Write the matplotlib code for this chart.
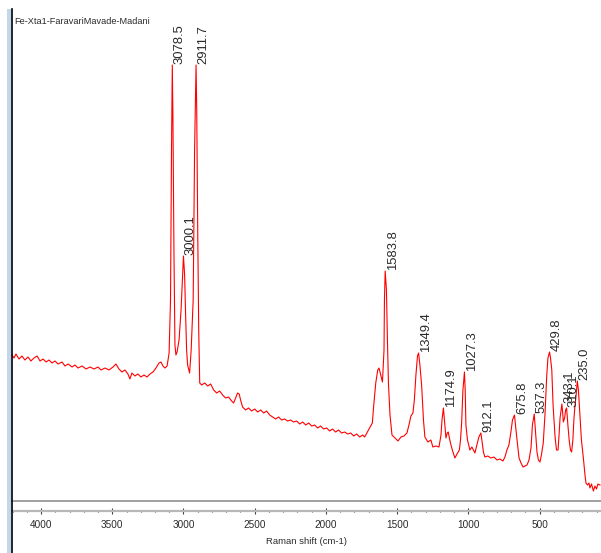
import numpy as np
import matplotlib.pyplot as plt
from matplotlib.patches import Rectangle
from matplotlib.lines import Line2D
from matplotlib.ticker import MultipleLocator

# -----------------------
# Data
# -----------------------
title = "Fe-Xta1-FaravariMavade-Madani"

shift = [4204, 4190, 4176, 4155, 4134, 4113, 4092, 4071, 4050, 4028,
         4007, 3986, 3965, 3944, 3923, 3902, 3881, 3853, 3832, 3810,
         3782, 3762, 3741, 3712, 3684, 3656, 3628, 3600, 3579, 3551,
         3523, 3495, 3474, 3453, 3432, 3411, 3390, 3376, 3362, 3341,
         3320, 3299, 3277, 3256, 3235, 3214, 3193, 3172, 3158, 3144,
         3130, 3115, 3101, 3091, 3084, 3078.5, 3074, 3067, 3060, 3053,
         3045, 3031, 3017, 3003, 3000.1, 2992, 2985, 2978, 2971, 2957,
         2946, 2932, 2922, 2911.7, 2907, 2900, 2893, 2886, 2872, 2851,
         2830, 2809, 2788, 2767, 2746, 2725, 2704, 2683, 2662, 2648,
         2634, 2620, 2609, 2599, 2585, 2564, 2543, 2522, 2500, 2479,
         2458, 2437, 2416, 2395, 2374, 2353, 2332, 2311, 2290, 2269,
         2248, 2227, 2206, 2184, 2163, 2142, 2121, 2100, 2079, 2058,
         2037, 2016, 1995, 1974, 1953, 1932, 1911, 1890, 1868, 1847,
         1826, 1805, 1784, 1763, 1742, 1728, 1709, 1693, 1674, 1664,
         1650, 1636, 1627, 1615, 1603, 1592, 1589, 1583.8, 1575, 1568,
         1561, 1550, 1536, 1515, 1494, 1473, 1452, 1431, 1417, 1403,
         1389, 1379, 1368, 1357, 1349.4, 1340, 1328, 1315, 1305, 1284,
         1263, 1249, 1228, 1206, 1192, 1185, 1174.9, 1168, 1157, 1148,
         1141, 1133, 1122, 1108, 1094, 1080, 1063, 1055, 1047, 1038,
         1027.3, 1022, 1017, 1006, 989, 975, 954, 940, 926, 912.1,
         905, 894, 884, 863, 842, 820, 799, 778, 757, 743,
         729, 715, 701, 690, 675.8, 669, 658, 644, 630, 616,
         602, 588, 574, 560, 550, 537.3, 529, 518, 508, 497,
         487, 474, 462, 450, 441, 429.8, 423, 414, 405, 391,
         381, 370, 363, 356, 343.1, 338, 333, 324, 317, 310.1,
         301, 292, 283, 275, 266, 259, 252, 243, 235.0, 227,
         216, 206, 193, 181, 174, 163, 153, 146, 135, 122,
         111, 100, 90, 76]

intensity = [145, 142, 146, 141, 144, 140, 143, 139, 142, 144,
             139, 141, 138, 140, 137, 139, 136, 138, 134, 136,
             133, 135, 132, 134, 131, 133, 131, 133, 130, 132,
             130, 133, 136, 131, 128, 130, 126, 121, 127, 124,
             126, 123, 125, 123, 126, 128, 132, 137, 138, 134,
             132, 134, 147, 200, 350, 435, 380, 250, 155, 145,
             148, 160, 190, 235, 244, 225, 185, 150, 135, 127,
             150, 200, 350, 435, 390, 270, 170, 117, 115, 117,
             114, 116, 110, 107, 109, 105, 102, 103, 99, 97,
             102, 107, 106, 100, 93, 90, 92, 89, 91, 88,
             90, 87, 89, 85, 83, 81, 83, 80, 81, 79,
             80, 78, 79, 76, 78, 75, 77, 74, 75, 72,
             74, 71, 72, 69, 71, 68, 70, 67, 68, 66,
             67, 64, 66, 63, 65, 63, 68, 72, 77, 95,
             117, 130, 132, 125, 118, 150, 200, 229, 210, 160,
             117, 85, 65, 62, 59, 63, 64, 67, 75, 84,
             87, 100, 125, 144, 147, 135, 115, 80, 63, 58,
             60, 53, 54, 53, 65, 80, 92, 80, 62, 67,
             68, 62, 55, 48, 42, 46, 50, 60, 77, 110,
             128, 110, 75, 60, 50, 53, 47, 55, 63, 67,
             60, 48, 43, 44, 42, 43, 40, 41, 39, 43,
             50, 55, 68, 80, 85, 75, 60, 42, 37, 33,
             34, 35, 40, 52, 75, 86, 70, 48, 40, 38,
             45, 57, 85, 123, 142, 148, 142, 130, 95, 63,
             50, 50, 65, 82, 96, 88, 78, 82, 90, 92,
             75, 60, 50, 48, 60, 80, 93, 105, 119, 110,
             83, 60, 43, 25, 17, 15, 17, 12, 16, 9,
             14, 11, 16, 15]

peaks = [3078.5, 3000.1, 2911.7, 1583.8, 1349.4, 1174.9, 1027.3, 912.1,
         675.8, 537.3, 429.8, 343.1, 310.1, 235.0]

shift = np.array(shift)
intensity = np.array(intensity)

# -----------------------
# Figure / axes
# -----------------------
W, H = 601, 553
fig = plt.figure(figsize=(W / 100, H / 100), dpi=100)
fig.patch.set_facecolor("white")

narrow = ["Liberation Sans Narrow", "Liberation Sans", "DejaVu Sans"]
txtcol = "#2a2a2a"

# plot area: x 11..601 px, y 9..500.7 px
ax = fig.add_axes([11 / W, (H - 500.7) / H, 590 / W, (500.7 - 9) / H])
ax.plot(shift, intensity, color="#ff0000", lw=0.8)
ax.set_xlim(4211, 68.5)
ax.set_ylim(-0.7, 491)
ax.set_xticks([])
ax.set_yticks([])
for s in ["top", "right", "left"]:
    ax.spines[s].set_visible(False)
ax.spines["bottom"].set_color("#a0a0a0")
ax.spines["bottom"].set_linewidth(1.4)

ax.text(3 / 590, 1 - 13 / 491.7, title, transform=ax.transAxes,
        ha="left", va="center", fontsize=6.6, family=narrow, color=txtcol)

# peak labels
for p in peaks:
    h = np.interp(p, shift[::-1], intensity[::-1])
    ax.annotate(f"{p:.1f}", (p, h), xytext=(1.0, 0.8), textcoords="offset points",
                rotation=90, ha="left", va="bottom", fontsize=9.4,
                family=["Liberation Sans", "DejaVu Sans"], color=txtcol)

# -----------------------
# Separate tick ruler under the plot
# -----------------------
tax = fig.add_axes([11 / W, (H - 510.7) / H, 590 / W, 0.0001])
tax.set_xlim(ax.get_xlim())
tax.patch.set_visible(False)
tax.set_yticks([])
for s in ["top", "right", "left"]:
    tax.spines[s].set_visible(False)
tax.spines["bottom"].set_color("#b8b8b8")
tax.spines["bottom"].set_linewidth(1.6)
tax.xaxis.set_major_locator(MultipleLocator(500))
tax.xaxis.set_minor_locator(MultipleLocator(100))
tax.tick_params(axis="x", which="major", direction="inout", length=4,
                width=0.8, color="#404040", pad=5, labelsize=7.2,
                labelcolor=txtcol)
tax.tick_params(axis="x", which="minor", direction="inout", length=2,
                width=0.8, color="#404040")
tax.set_xticks([4000, 3500, 3000, 2500, 2000, 1500, 1000, 500])
for lbl in tax.get_xticklabels():
    lbl.set_family(narrow)
tax.set_xlabel("Raman shift (cm-1)", fontsize=6.8, family=narrow,
               color=txtcol, labelpad=5)

# -----------------------
# Window decoration on the left
# -----------------------
fig.patches.append(Rectangle((7 / W, 0), 3.5 / W, (H - 9) / H,
                             transform=fig.transFigure,
                             facecolor="#c2d7ec", edgecolor="none"))
fig.lines.append(Line2D([11.6 / W, 11.6 / W], [0, (H - 9) / H],
                        transform=fig.transFigure, color="black", lw=1.2))

fig.savefig("out.png", dpi=100)
